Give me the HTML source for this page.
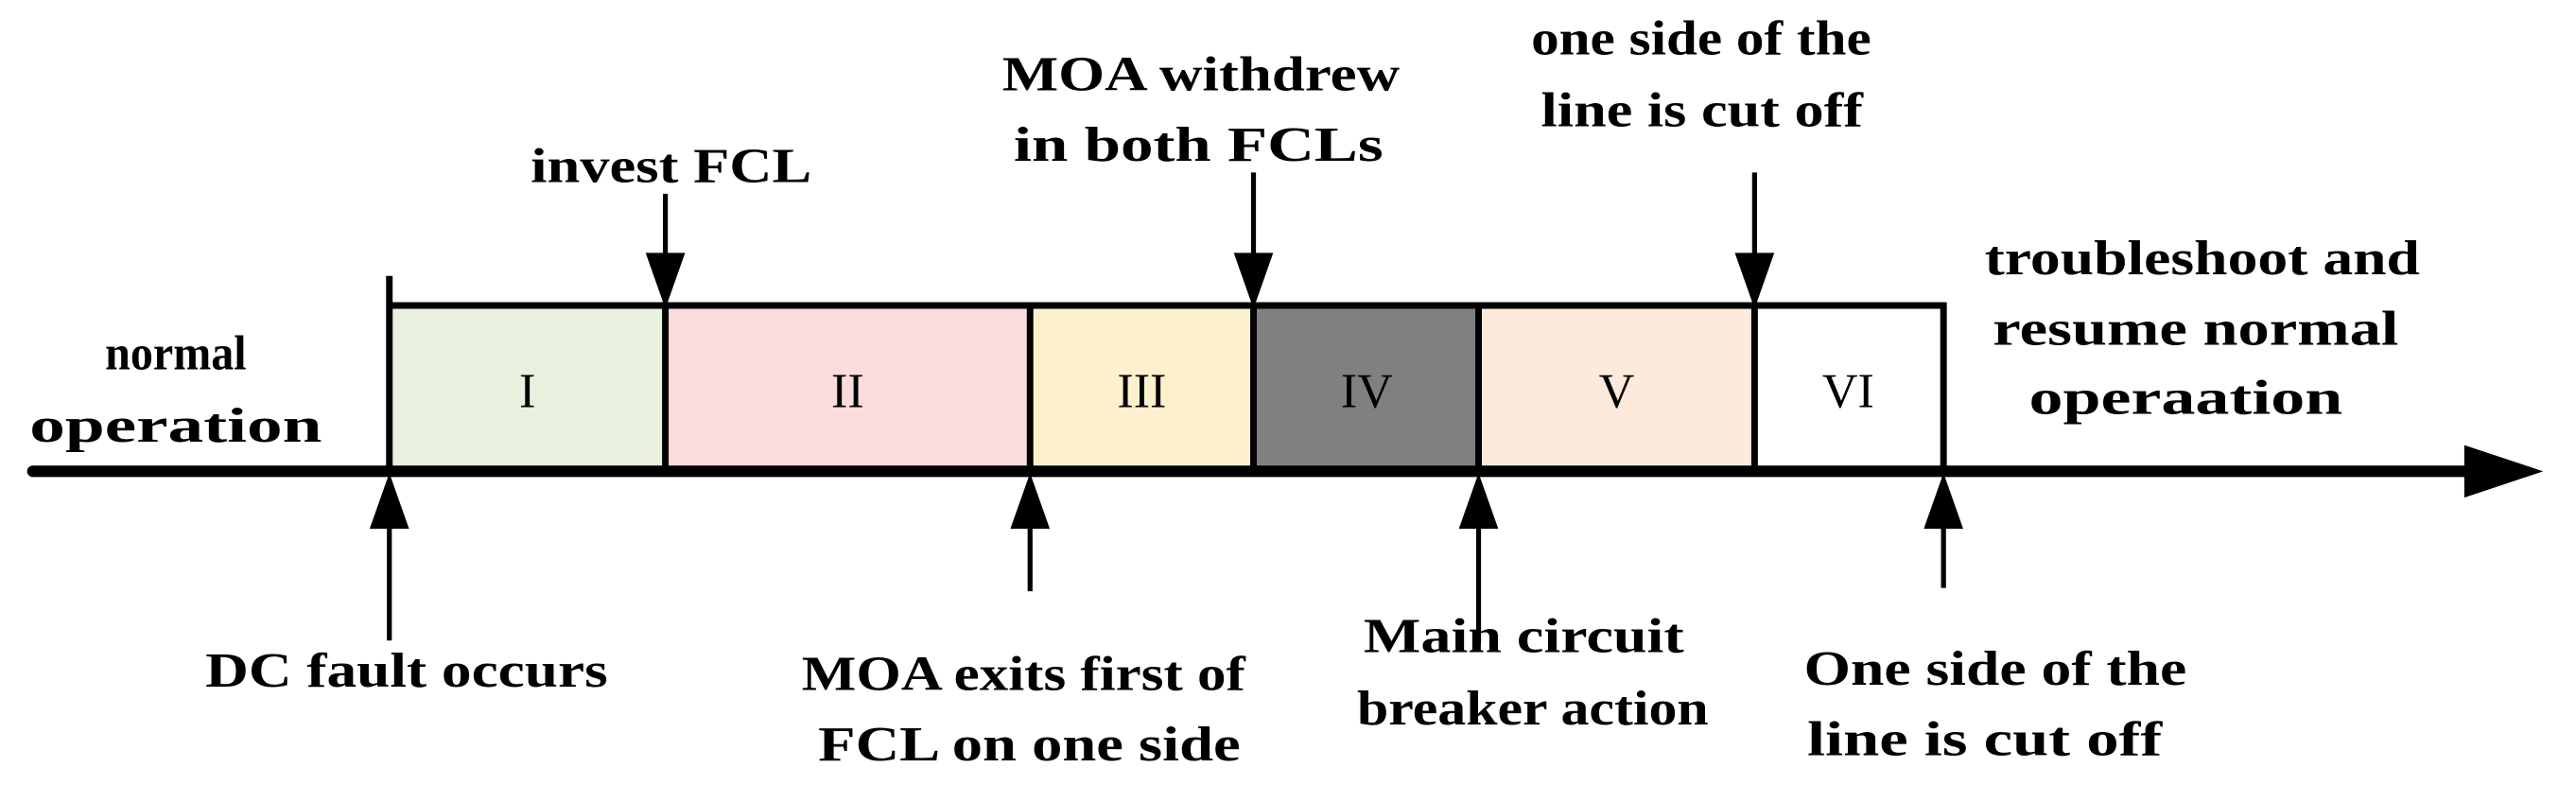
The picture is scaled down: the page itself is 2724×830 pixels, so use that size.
<!DOCTYPE html>
<html><head><meta charset="utf-8"><style>html,body{margin:0;padding:0;background:#fff}svg{display:block}</style></head>
<body>
<svg width="2724" height="830" viewBox="0 0 1568 478" preserveAspectRatio="none" xmlns="http://www.w3.org/2000/svg">
<rect x="237" y="186" width="168" height="100" fill="#e8f0de"/>
<rect x="405" y="186" width="222" height="100" fill="#f9dcdb"/>
<rect x="627" y="186" width="136" height="100" fill="#fdf0cc"/>
<rect x="763" y="186" width="137" height="100" fill="#808080"/>
<rect x="900" y="186" width="168" height="100" fill="#fdeadd"/>
<rect x="1068" y="186" width="115" height="100" fill="#ffffff"/>
<g stroke="#000" stroke-width="4" fill="none">
<line x1="237" y1="186" x2="1185" y2="186"/>
<line x1="237" y1="168" x2="237" y2="286"/>
<line x1="405" y1="186" x2="405" y2="286"/>
<line x1="627" y1="186" x2="627" y2="286"/>
<line x1="763" y1="186" x2="763" y2="286"/>
<line x1="900" y1="186" x2="900" y2="286"/>
<line x1="1068" y1="186" x2="1068" y2="286"/>
<line x1="1183" y1="186" x2="1183" y2="286"/>
</g>
<line x1="20" y1="287" x2="1505" y2="287" stroke="#000" stroke-width="7" stroke-linecap="round"/>
<polygon points="1500,271 1548,287 1500,303" fill="#000"/>
<g stroke="#000" stroke-width="3">
<line x1="405" y1="118" x2="405" y2="160"/>
<line x1="763" y1="105" x2="763" y2="160"/>
<line x1="1068" y1="105" x2="1068" y2="160"/>
<line x1="237" y1="315" x2="237" y2="390"/>
<line x1="627" y1="315" x2="627" y2="360"/>
<line x1="900" y1="315" x2="900" y2="392"/>
<line x1="1183" y1="315" x2="1183" y2="358"/>
</g>
<g fill="#000">
<polygon points="393,154 417,154 405,188"/>
<polygon points="751,154 775,154 763,188"/>
<polygon points="1056,154 1080,154 1068,188"/>
<polygon points="225,322 249,322 237,288"/>
<polygon points="615,322 639,322 627,288"/>
<polygon points="888,322 912,322 900,288"/>
<polygon points="1171,322 1195,322 1183,288"/>
</g>
<g font-family="'Liberation Serif',serif" font-size="30" text-anchor="middle" fill="#000">
<text x="321" y="248">I</text>
<text x="516" y="248">II</text>
<text x="695" y="248">III</text>
<text x="832" y="248">IV</text>
<text x="984" y="248">V</text>
<text x="1125" y="248">VI</text>
</g>
<g font-family="'Liberation Serif',serif" font-weight="bold" font-size="30" fill="#000" lengthAdjust="spacingAndGlyphs">
<text x="64" y="225" textLength="86" lengthAdjust="spacingAndGlyphs">normal</text>
<text x="18" y="269" textLength="178" lengthAdjust="spacingAndGlyphs">operation</text>
<text x="323" y="111" textLength="171" lengthAdjust="spacingAndGlyphs">invest FCL</text>
<text x="610" y="55" textLength="242" lengthAdjust="spacingAndGlyphs">MOA withdrew</text>
<text x="617" y="98" textLength="225" lengthAdjust="spacingAndGlyphs">in both FCLs</text>
<text x="932" y="33" textLength="207" lengthAdjust="spacingAndGlyphs">one side of the</text>
<text x="938" y="77" textLength="196" lengthAdjust="spacingAndGlyphs">line is cut off</text>
<text x="1208" y="167" textLength="265" lengthAdjust="spacingAndGlyphs">troubleshoot and</text>
<text x="1213" y="210" textLength="247" lengthAdjust="spacingAndGlyphs">resume normal</text>
<text x="1235" y="252" textLength="191" lengthAdjust="spacingAndGlyphs">operaation</text>
<text x="125" y="418" textLength="245" lengthAdjust="spacingAndGlyphs">DC fault occurs</text>
<text x="488" y="420" textLength="270" lengthAdjust="spacingAndGlyphs">MOA exits first of</text>
<text x="498" y="463" textLength="257" lengthAdjust="spacingAndGlyphs">FCL on one side</text>
<text x="830" y="397" textLength="195" lengthAdjust="spacingAndGlyphs">Main circuit</text>
<text x="826" y="441" textLength="214" lengthAdjust="spacingAndGlyphs">breaker action</text>
<text x="1098" y="417" textLength="233" lengthAdjust="spacingAndGlyphs">One side of the</text>
<text x="1100" y="460" textLength="216" lengthAdjust="spacingAndGlyphs">line is cut off</text>
</g>
</svg>
</body></html>
